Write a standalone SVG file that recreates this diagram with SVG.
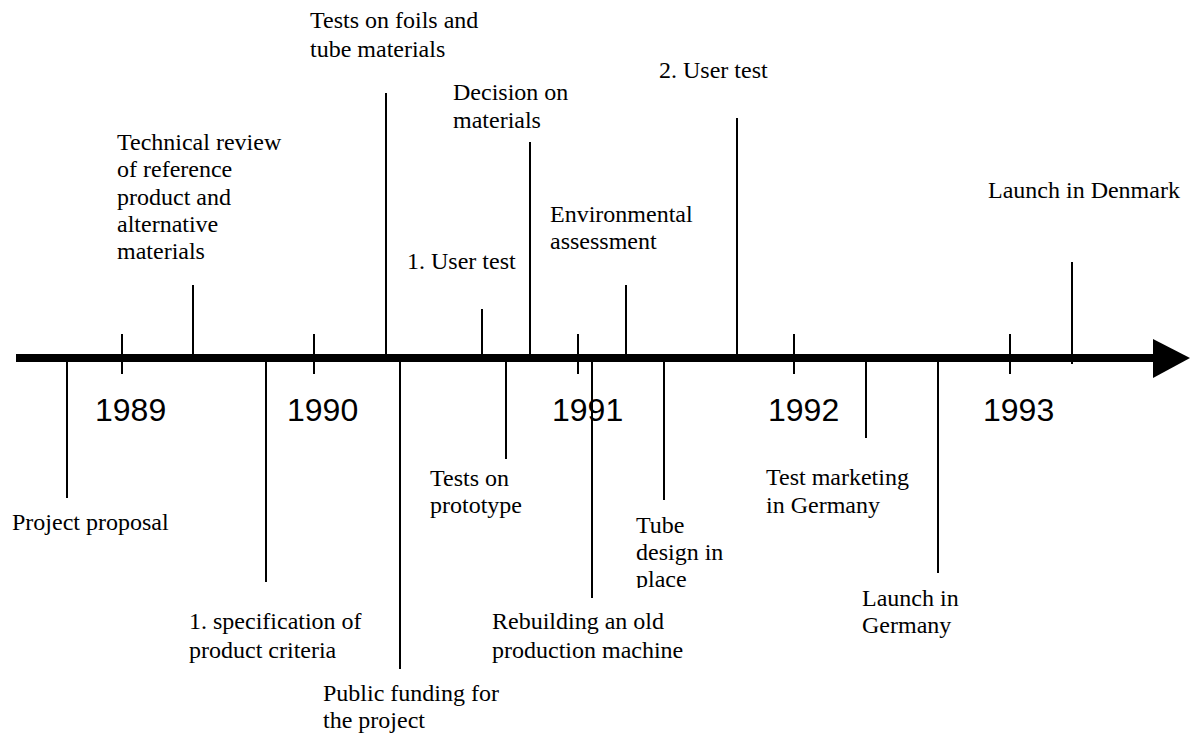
<svg xmlns="http://www.w3.org/2000/svg" width="1190" height="735" viewBox="0 0 1190 735">
<style>
.lbl{font-family:"Liberation Serif","Times New Roman",serif;font-size:24px;fill:#000}
.yr{font-family:"Liberation Sans",Arial,sans-serif;font-size:32px;fill:#000}
.ln{stroke:#000;stroke-width:2;fill:none}
.axis{stroke:#000;stroke-width:8;fill:none}
</style>
<defs>
<clipPath id="clipTube"><rect x="600" y="500" width="150" height="88"/></clipPath>
</defs>
<rect width="1190" height="735" fill="#fff"/>
<g id="axis">
<line class="axis" x1="16" y1="358" x2="1156" y2="358"/>
<polygon points="1153,339 1190,358 1153,378" fill="#000"/>
</g>
<g id="years">
<line class="ln" x1="122" y1="334" x2="122" y2="374"/>
<line class="ln" x1="314" y1="334" x2="314" y2="374"/>
<line class="ln" x1="578" y1="334" x2="578" y2="374"/>
<line class="ln" x1="794" y1="334" x2="794" y2="374"/>
<line class="ln" x1="1010" y1="334" x2="1010" y2="374"/>
<text class="yr" x="95" y="421">1989</text>
<text class="yr" x="287" y="421">1990</text>
<text class="yr" x="552" y="421">1991</text>
<text class="yr" x="768" y="421">1992</text>
<text class="yr" x="983" y="421">1993</text>
</g>
<g id="connectors">
<line class="ln" x1="193" y1="285" x2="193" y2="356"/>
<line class="ln" x1="386" y1="93" x2="386" y2="356"/>
<line class="ln" x1="482" y1="309" x2="482" y2="356"/>
<line class="ln" x1="530" y1="142" x2="530" y2="356"/>
<line class="ln" x1="626" y1="285" x2="626" y2="356"/>
<line class="ln" x1="737" y1="118" x2="737" y2="356"/>
<line class="ln" x1="1072" y1="262" x2="1072" y2="364"/>
<line class="ln" x1="67" y1="360" x2="67" y2="498"/>
<line class="ln" x1="266" y1="360" x2="266" y2="582"/>
<line class="ln" x1="400" y1="360" x2="400" y2="669"/>
<line class="ln" x1="506" y1="360" x2="506" y2="459"/>
<line class="ln" x1="592" y1="360" x2="592" y2="598"/>
<line class="ln" x1="664" y1="360" x2="664" y2="500"/>
<line class="ln" x1="866" y1="360" x2="866" y2="438"/>
<line class="ln" x1="938" y1="360" x2="938" y2="573"/>
</g>
<g id="technical-review"><text class="lbl" x="117" y="150">Technical review</text><text class="lbl" x="117" y="177">of reference</text><text class="lbl" x="117" y="205">product and</text><text class="lbl" x="117" y="232">alternative</text><text class="lbl" x="117" y="259">materials</text></g>
<g id="tests-foils"><text class="lbl" x="310" y="28">Tests on foils and</text><text class="lbl" x="310" y="57">tube materials</text></g>
<g id="user-test-1"><text class="lbl" x="407" y="269">1. User test</text></g>
<g id="decision"><text class="lbl" x="453" y="100">Decision on</text><text class="lbl" x="453" y="128">materials</text></g>
<g id="environmental"><text class="lbl" x="550" y="222">Environmental</text><text class="lbl" x="550" y="249">assessment</text></g>
<g id="user-test-2"><text class="lbl" x="659" y="78">2. User test</text></g>
<g id="launch-denmark"><text class="lbl" x="988" y="198">Launch in Denmark</text></g>
<g id="project-proposal"><text class="lbl" x="12" y="530">Project proposal</text></g>
<g id="specification"><text class="lbl" x="189" y="629">1. specification of</text><text class="lbl" x="189" y="658">product criteria</text></g>
<g id="public-funding"><text class="lbl" x="323" y="701">Public funding for</text><text class="lbl" x="323" y="728">the project</text></g>
<g id="tests-prototype"><text class="lbl" x="430" y="486">Tests on</text><text class="lbl" x="430" y="513">prototype</text></g>
<g id="rebuilding"><text class="lbl" x="492" y="629">Rebuilding an old</text><text class="lbl" x="492" y="658">production machine</text></g>
<g id="tube-design" clip-path="url(#clipTube)"><text class="lbl" x="636" y="533">Tube</text><text class="lbl" x="636" y="560">design in</text><text class="lbl" x="636" y="587">place</text></g>
<g id="test-marketing"><text class="lbl" x="766" y="485">Test marketing</text><text class="lbl" x="766" y="513">in Germany</text></g>
<g id="launch-germany"><text class="lbl" x="862" y="606">Launch in</text><text class="lbl" x="862" y="633">Germany</text></g>
</svg>
